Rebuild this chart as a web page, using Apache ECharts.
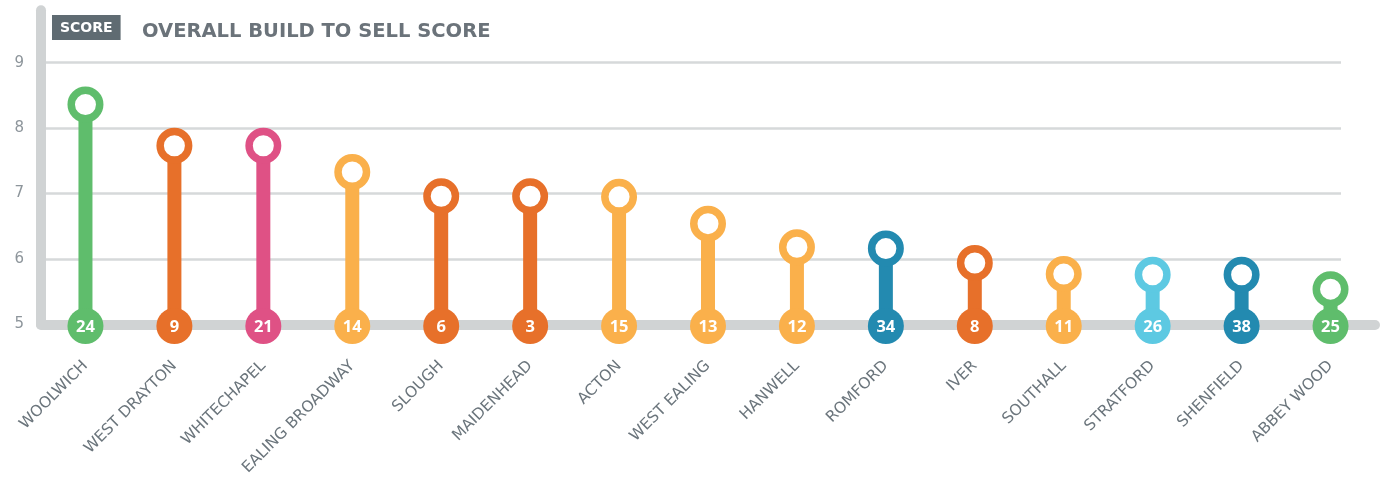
<!DOCTYPE html>
<html>
<head>
<meta charset="utf-8">
<script src="https://cdn.jsdelivr.net/npm/echarts@6/dist/echarts.min.js"></script>
<style>
html,body{margin:0;padding:0;background:#fff;}
#chart{width:1385px;height:479px;}
</style>
</head>
<body>
<div id="chart"></div>
<script>
const categories = ['WOOLWICH','WEST DRAYTON','WHITECHAPEL','EALING BROADWAY','SLOUGH','MAIDENHEAD','ACTON','WEST EALING','HANWELL','ROMFORD','IVER','SOUTHALL','STRATFORD','SHENFIELD','ABBEY WOOD'];
const scores = [8.36, 7.73, 7.73, 7.33, 6.96, 6.96, 6.95, 6.54, 6.18, 6.16, 5.94, 5.77, 5.76, 5.76, 5.54];
const ranks = [24, 9, 21, 14, 6, 3, 15, 13, 12, 34, 8, 11, 26, 38, 25];
const yTicks = [5, 6, 7, 8, 9];
const Y_MIN = 5, Y_MAX = 9.8, Y_STEP = 1;

const palette = {green:'#5FBD6C', orange:'#E7702A', pink:'#DF5185', amber:'#FAB04B', teal:'#238AB0', sky:'#5DC9E2'};
const colorKeys = ['green','orange','pink','amber','orange','orange','amber','amber','amber','teal','orange','amber','sky','teal','green'];
const colors = colorKeys.map(k => palette[k]);

const AXIS_GREY = '#D0D3D4';
const GRID = {left: 41, top: 10.3, bottom: 154.5};

const chart = echarts.init(document.getElementById('chart'), null, {renderer: 'canvas'});
chart.setOption({
  animation: false,
  backgroundColor: '#fff',
  title: [
    {text: 'SCORE', left: 52, top: 15, backgroundColor: '#5F6B72', padding: [5, 8, 4, 8],
     textStyle: {color: '#fff', fontFamily: 'DejaVu Sans', fontWeight: 'bold', fontSize: 14, lineHeight: 16}},
    {text: 'OVERALL BUILD TO SELL SCORE', left: 137, top: 17,
     textStyle: {color: '#6B737A', fontFamily: 'DejaVu Sans', fontWeight: 'bold', fontSize: 19.5}}
  ],
  grid: [
    Object.assign({right: 10}, GRID),
    Object.assign({right: 44}, GRID)
  ],
  xAxis: [
    {type: 'category', gridIndex: 0, data: categories, boundaryGap: true, z: 2,
     axisLine: {show: true, lineStyle: {color: AXIS_GREY, width: 10}},
     axisTick: {show: false},
     axisLabel: {interval: 0, rotate: 45, margin: 39, color: '#6B757C', fontFamily: 'DejaVu Sans', fontSize: 15.5}},
    {type: 'value', gridIndex: 1, min: 0, max: 1, show: false}
  ],
  yAxis: [
    {type: 'value', gridIndex: 0, min: Y_MIN, max: Y_MAX, interval: Y_STEP, z: 2,
     axisLine: {show: true, lineStyle: {color: AXIS_GREY, width: 10}},
     axisTick: {show: false},
     splitLine: {show: false},
     axisLabel: {show: true, showMaxLabel: false, margin: 17, color: '#8D959B', fontFamily: 'DejaVu Sans', fontSize: 15,
       formatter: v => yTicks.indexOf(v) >= 0 ? String(v) : ''}},
    {type: 'value', gridIndex: 1, min: Y_MIN, max: Y_MAX, interval: Y_STEP, z: 0,
     axisLine: {show: false}, axisTick: {show: false}, axisLabel: {show: false},
     splitLine: {show: true, showMinLine: false, showMaxLine: false, lineStyle: {color: '#D6D9DA', width: 2.5}}}
  ],
  series: [
    {type: 'bar', xAxisIndex: 0, yAxisIndex: 0, barWidth: 14, z: 3,
     data: scores.map((v, i) => ({value: v, itemStyle: {color: colors[i]}}))},
    {type: 'scatter', xAxisIndex: 0, yAxisIndex: 0, symbol: 'circle', symbolSize: 28.5, z: 4, clip: false,
     itemStyle: {opacity: 1},
     data: scores.map((v, i) => ({value: [i, v], itemStyle: {color: '#fff', borderColor: colors[i], borderWidth: 7.5, opacity: 1}}))},
    {type: 'scatter', xAxisIndex: 0, yAxisIndex: 0, symbol: 'circle', symbolSize: 36, symbolOffset: [0, 1.5], z: 5, clip: false,
     itemStyle: {opacity: 1},
     data: ranks.map((r, i) => ({value: [i, Y_MIN], itemStyle: {color: colors[i], opacity: 1}})),
     label: {show: true, position: 'inside', offset: [0, 1.5], formatter: p => String(ranks[p.dataIndex]),
       color: '#fff', fontFamily: 'Open Sans', fontWeight: 'bold', fontSize: 16.5}}
  ]
});
</script>
</body>
</html>
